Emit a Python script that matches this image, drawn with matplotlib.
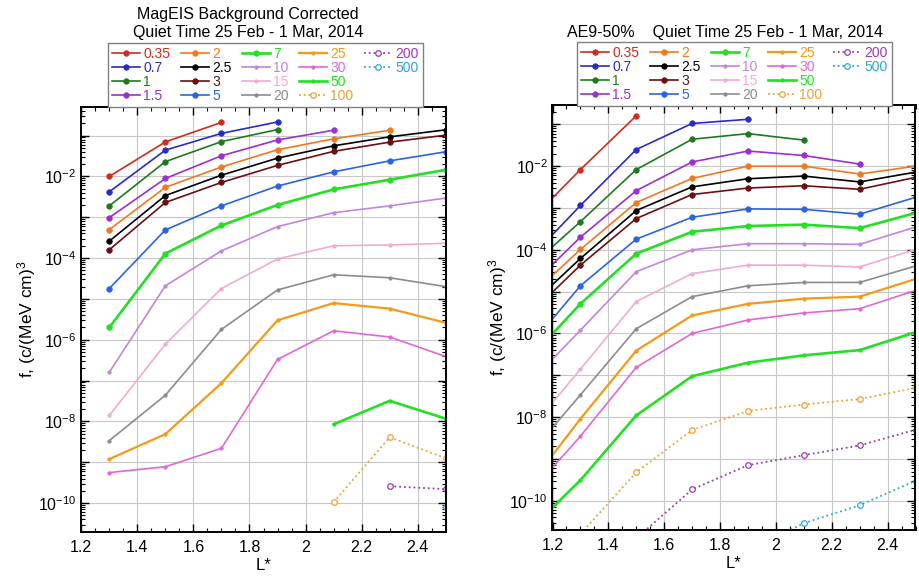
import numpy as np
import matplotlib
matplotlib.use('Agg')
import matplotlib.pyplot as plt
from matplotlib.ticker import LogLocator, FuncFormatter, MultipleLocator, NullFormatter, FixedLocator
from matplotlib.lines import Line2D

plt.rcParams['font.family'] = ['Liberation Sans', 'DejaVu Sans']
plt.rcParams['mathtext.fontset'] = 'custom'
plt.rcParams['mathtext.rm'] = 'Liberation Sans'
plt.rcParams['mathtext.it'] = 'Liberation Sans:italic'
plt.rcParams['mathtext.default'] = 'regular'

nan = np.nan

# energy channels (MeV) in legend order
energies = ['0.35', '0.7', '1', '1.5', '2', '2.5', '3', '5', '7',
            '10', '15', '20', '25', '30', '50', '100', '200', '500']
colors = ['#d42a1e', '#2a2ac8', '#1f7a1f', '#9b2fd0', '#f07820', '#000000',
          '#6b0f0f', '#2a64e6', '#22e022', '#c384dc', '#f2a9d2', '#8c8c8c',
          '#f39a1a', '#e067d6', '#22e022', '#f0a030', '#9a3ab8', '#2aa8d8']

# MagEIS background corrected, phase space density
mageis_L = [1.3, 1.5, 1.7, 1.9, 2.1, 2.3, 2.5]
mageis_f = [
    [1.0e-2, 7.0e-2, 2.1e-1, nan, nan, nan, nan],                  # 0.35
    [4.2e-3, 4.4e-2, 1.13e-1, 2.15e-1, nan, nan, nan],             # 0.7
    [1.9e-3, 2.3e-2, 7.1e-2, 1.4e-1, nan, nan, nan],               # 1
    [9.8e-4, 8.9e-3, 3.2e-2, 7.8e-2, 1.35e-1, nan, nan],           # 1.5
    [5.0e-4, 5.4e-3, 1.7e-2, 4.5e-2, 8.3e-2, 1.35e-1, nan],        # 2
    [2.6e-4, 3.4e-3, 1.07e-2, 2.8e-2, 5.6e-2, 9.3e-2, 1.38e-1],    # 2.5
    [1.6e-4, 2.3e-3, 7.1e-3, 1.86e-2, 4.1e-2, 6.9e-2, 1.02e-1],    # 3
    [1.8e-5, 4.9e-4, 1.9e-3, 5.8e-3, 1.29e-2, 2.4e-2, 4.0e-2],     # 5
    [2.0e-6, 1.29e-4, 6.3e-4, 2.0e-3, 4.8e-3, 8.3e-3, 1.45e-2],    # 7
    [1.6e-7, 2.1e-5, 1.5e-4, 5.9e-4, 1.29e-3, 1.9e-3, 2.95e-3],    # 10
    [1.4e-8, 7.8e-7, 1.8e-5, 9.5e-5, 2.0e-4, 2.1e-4, 2.3e-4],      # 15
    [3.4e-9, 4.4e-8, 1.8e-6, 1.66e-5, 3.9e-5, 3.3e-5, 2.0e-5],     # 20
    [1.2e-9, 4.9e-9, 8.7e-8, 3.0e-6, 7.9e-6, 5.8e-6, 2.6e-6],      # 25
    [5.6e-10, 7.8e-10, 2.2e-9, 3.3e-7, 1.66e-6, 1.17e-6, 3.9e-7],  # 30
    [nan, nan, nan, nan, 8.5e-9, 3.2e-8, 1.17e-8],                 # 50
    [nan, nan, nan, nan, 1.05e-10, 4.1e-9, 1.26e-9],               # 100
    [nan, nan, nan, nan, nan, 2.6e-10, 2.2e-10],                   # 200
    [nan, nan, nan, nan, nan, nan, 7.9e-11],                       # 500
]

# AE9 50th percentile
ae9_L = [1.1, 1.3, 1.5, 1.7, 1.9, 2.1, 2.3, 2.5]
ae9_f = [
    [3.6e-4, 8.3e-3, 1.6e-1, nan, nan, nan, nan, nan],                      # 0.35
    [4.6e-5, 1.15e-3, 2.5e-2, 1.05e-1, 1.32e-1, nan, nan, nan],             # 0.7
    [3.0e-5, 4.7e-4, 8.3e-3, 4.4e-2, 6.0e-2, 4.2e-2, nan, nan],             # 1
    [1.0e-5, 2.0e-4, 2.6e-3, 1.26e-2, 2.3e-2, 1.8e-2, 1.12e-2, nan],        # 1.5
    [5.9e-6, 1.02e-4, 1.35e-3, 5.1e-3, 1.0e-2, 1.0e-2, 6.5e-3, 1.0e-2],     # 2
    [3.5e-6, 6.2e-5, 8.7e-4, 3.2e-3, 5.0e-3, 5.8e-3, 4.2e-3, 7.2e-3],       # 2.5
    [2.2e-6, 4.3e-5, 5.6e-4, 2.1e-3, 3.0e-3, 3.4e-3, 2.8e-3, 5.4e-3],       # 3
    [3.6e-7, 1.38e-5, 1.8e-4, 6.0e-4, 9.5e-4, 9.3e-4, 7.1e-4, 1.8e-3],      # 5
    [1.9e-7, 5.1e-6, 8.1e-5, 2.7e-4, 3.7e-4, 4.0e-4, 3.3e-4, 7.6e-4],       # 7
    [4.9e-8, 1.2e-6, 3.0e-5, 1.0e-4, 1.4e-4, 1.4e-4, 1.35e-4, 3.5e-4],      # 10
    [3.5e-9, 1.4e-7, 5.8e-6, 2.7e-5, 4.3e-5, 4.3e-5, 3.9e-5, 1.02e-4],      # 15
    [9.3e-10, 3.4e-8, 1.3e-6, 7.6e-6, 1.38e-5, 1.66e-5, 1.66e-5, 4.1e-5],   # 20
    [1.66e-10, 9.1e-9, 3.9e-7, 2.7e-6, 5.1e-6, 6.8e-6, 7.6e-6, 2.0e-5],     # 25
    [1.1e-10, 3.5e-9, 1.55e-7, 1.0e-6, 2.1e-6, 3.1e-6, 3.9e-6, 1.07e-5],    # 30
    [1.5e-11, 3.1e-10, 1.1e-8, 9.5e-8, 2.0e-7, 3.0e-7, 4.0e-7, 1.07e-6],    # 50
    [nan, 1.6e-11, 4.8e-10, 4.9e-9, 1.4e-8, 2.0e-8, 2.7e-8, 5.0e-8],        # 100
    [nan, nan, 1.26e-11, 1.86e-10, 7.1e-10, 1.23e-9, 2.1e-9, 5.0e-9],       # 200
    [nan, nan, nan, nan, 6.3e-12, 2.9e-11, 7.8e-11, 3.0e-10],               # 500
]

decades = [1e-10, 1e-9, 1e-8, 1e-7, 1e-6, 1e-5, 1e-4, 1e-3, 1e-2, 1e-1]


def style(i):
    e = energies[i]
    if e in ('100', '200', '500'):
        return dict(ls=':', lw=1.3, marker='o', ms=4, mfc='white', mew=0.9)
    if e in ('10', '15', '20', '25', '30'):
        lw = 1.6 if e == '25' else 1.2
        return dict(ls='-', lw=lw, marker='o', ms=2.5, mfc=colors[i], mew=0.5)
    lw = 1.9 if e in ('7', '50') else 1.2
    ms = 2.5 if e == '50' else 4
    return dict(ls='-', lw=lw, marker='o', ms=ms, mfc=colors[i], mew=0.5)


def draw_panel(ax, L, rows, ytop):
    for i, e in enumerate(energies):
        ax.plot(L, rows[i], color=colors[i], mec=colors[i], label=e, **style(i))
    ax.set_yscale('log')
    ax.set_xlim(1.2, 2.5)
    ax.set_ylim(2e-11, ytop)
    ax.xaxis.set_major_locator(MultipleLocator(0.2))
    ax.xaxis.set_minor_locator(MultipleLocator(0.05))
    ax.xaxis.set_major_formatter(FuncFormatter(lambda v, p: f'{v:g}'))
    ax.yaxis.set_major_locator(FixedLocator(decades))
    ax.yaxis.set_minor_locator(LogLocator(base=10, subs=np.arange(2, 10), numticks=30))
    ax.yaxis.set_minor_formatter(NullFormatter())
    ax.yaxis.set_major_formatter(FuncFormatter(
        lambda v, p: f'$10^{{{int(round(np.log10(v)))}}}$' if int(round(np.log10(v))) % 2 == 0 else ''))
    ax.tick_params(which='both', direction='in', top=True, right=True, labelsize=11.5)
    ax.tick_params(which='major', length=6, width=1)
    ax.tick_params(which='minor', length=3, width=0.8)
    ax.tick_params(axis='x', which='major', pad=6)
    ax.grid(True, which='major', color='#c8c8c8', lw=0.8)
    ax.set_axisbelow(True)
    for s in ax.spines.values():
        s.set_linewidth(1.4)
    ax.set_xlabel('L*', fontsize=12, labelpad=2)
    ax.set_ylabel('f, (c/(MeV cm)$^3$', fontsize=12.5, labelpad=0)


def add_legend(fig, ax, x0, y0):
    handles, labels = ax.get_legend_handles_labels()
    for k in range(2):
        handles.append(Line2D([], [], alpha=0))
        labels.append('')
    leg = fig.legend(handles, labels, loc='upper left',
                     bbox_to_anchor=(x0 / 920, 1 - y0 / 579), bbox_transform=fig.transFigure,
                     ncol=5, fontsize=10, labelcolor='linecolor', frameon=True,
                     fancybox=False, edgecolor='#808080', framealpha=1, borderaxespad=0,
                     borderpad=0.3, labelspacing=0.0, handlelength=2.0,
                     handletextpad=0.25, columnspacing=0.75)
    leg.get_frame().set_linewidth(1.0)


fig = plt.figure(figsize=(9.2, 5.79), dpi=100)
ax1 = fig.add_axes([81.3 / 920, 1 - 531.7 / 579, 364.4 / 920, 424.7 / 579])
ax2 = fig.add_axes([552.5 / 920, 1 - 530 / 579, 363 / 920, 425 / 579])

draw_panel(ax1, mageis_L, mageis_f, 0.5)
draw_panel(ax2, ae9_L, ae9_f, 0.29)

add_legend(fig, ax1, 108, 43)
add_legend(fig, ax2, 577, 42)

fig.text(248 / 920, 1 - 15 / 579, 'MagEIS Background Corrected', ha='center', va='center', fontsize=11.5)
fig.text(248 / 920, 1 - 33 / 579, 'Quiet Time 25 Feb - 1 Mar, 2014', ha='center', va='center', fontsize=11.5)
fig.text(725 / 920, 1 - 32 / 579, 'AE9-50%    Quiet Time 25 Feb - 1 Mar, 2014', ha='center', va='center', fontsize=11.5)

fig.savefig('out.png', dpi=100)
